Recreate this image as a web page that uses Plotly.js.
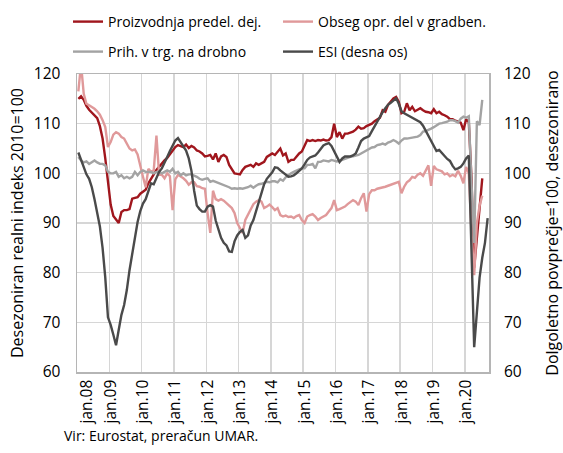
<!DOCTYPE html>
<html><head><meta charset="utf-8">
<script src="https://cdn.plot.ly/plotly-3.0.1.min.js"></script>
<style>html,body{margin:0;padding:0;background:#fff}#chart{width:563px;height:453px}</style>
</head><body><div id="chart"></div>
<script>
// Monthly series, Jan 2008 onward
const tickLabels = ['jan.08','jan.09','jan.10','jan.11','jan.12','jan.13','jan.14','jan.15','jan.16','jan.17','jan.18','jan.19','jan.20'];

const proizvodnja = [
 115,115.5,114.8,113.6,112.8,112.2,111.7,111.1,109.5,107,103,97.7,
 93.7,91.4,90.6,90,92.2,92.6,92.6,92.8,94.9,95,95.2,95.9,
 96.4,96.7,98,98.8,99.8,100.7,101.4,102,102.6,103.1,103.8,104.4,
 105.3,105.7,105.5,105.3,105.8,105.1,105.5,105.2,104.6,104.4,104,103.4,
 103.5,103.7,102.8,104,102.3,103.4,103.7,103.3,101.7,100.7,100,99.9,
 99.8,100.7,101.3,101.5,101.7,101.3,102,101.7,102,102.3,103.3,103.6,
 104,103.7,104.3,105,103.6,104,102.3,102.7,102.7,103.4,104,104.4,
 105.5,106.7,106.5,106.7,106.5,106.7,106.6,106.8,106.6,106.7,107.3,110,
 107.3,108.3,107,108,108,108.2,108.4,108.8,109.4,109,109.1,109.5,
 109.7,110,110.5,110.8,111.2,112.7,112.4,113.8,114.5,115.1,115.4,114.4,
 112.1,112.4,114.1,112.7,113.4,112.5,112.8,113.1,112.7,112.4,112.3,112.1,
 112.9,112.1,112.4,111.9,111.7,111.4,110.9,110.9,110.6,110.4,110.2,108.7,
 110.9,110.3,99,81,87,93.5,99];

const gradbenistvo = [
 116.5,122,116,114,113.7,113.4,113,112.5,111.8,110.7,109.3,105.3,
 106.3,107.8,108.3,108,107.3,107,106.1,105,104.6,104.8,103.8,101.8,
 99.3,97.2,100.9,100.3,100.6,107.6,99.7,99.7,99,100,99.4,92.6,
 98.8,99.7,99.4,99,98.5,97.7,98.2,98.2,97.4,97.3,97,96.9,
 92,88,96.5,94.8,94.5,94.8,94.5,94,93.5,93,92,90,
 89,88,90.6,91.6,92.6,93.8,94.3,94.6,94.3,93,93.3,93.7,
 93.2,92.6,93,91.6,91.3,91.5,91.2,91.3,91,91.4,91.6,90.6,
 90,91.3,91.6,91.8,91.3,90.6,91,91.3,91.6,92.3,93,94.6,
 92.6,92.8,93,93.3,93.8,94.3,94.6,94.3,93.6,95,96,92.3,
 95.8,96.6,96.6,96.9,97,97.1,97.3,97.5,97.7,97.8,98,98.3,
 96,97.3,98.2,98.6,99.3,99.1,99.7,100,99.5,100.5,101.6,97.5,
 101.5,100.8,100.6,100.4,99.8,100,99.4,99.7,99.4,100.5,99.5,98,
 101.3,100,88,79.5,90,93.5,95.5];

const trgovina = [
 103.3,102.6,102.2,102.4,101.9,102.2,102.6,102.2,101.9,101.9,101.6,100.3,
 100,100,100.3,99.3,99.6,99,99.3,99,99.3,100.3,99.6,100.3,
 100.6,100.3,100.3,100.3,100,100.3,100.3,100,100.3,100.6,100.3,100.9,
 100,100.3,99.6,100,99.6,99.8,99.8,99.6,99.3,98.9,98.7,98.9,
 99,98.3,98.5,98.3,98.1,97.9,97.6,97.4,97.2,96.9,97,96.9,
 97,96.9,97,97.2,97.5,97.1,97.5,97.8,97.9,98.1,98.3,98.2,
 98.4,98.4,98.2,98.8,98.5,99.2,99.7,100,100.3,100.6,100.8,101,
 101,101.7,101.7,101.9,101,102.3,102.3,102.6,102.5,102.4,102.7,102.5,
 102.4,102.5,102.7,103,103.1,103.3,103.4,103.5,103.7,104,104.3,104.7,
 105,105.2,105.3,105.7,105.8,106,105.8,106.2,106.4,106.7,106.4,106,
 106.6,107,107,107.1,107.2,107.3,107.4,107.7,108.4,108.5,108.7,109,
 109.3,109.6,110,110.1,110.2,110.4,110.7,110.7,110.5,110.2,111,111.4,
 111.2,111.5,98,86,110.5,109.7,114.8];

const esi = [
 104.2,102.8,101.5,99.8,98.9,97.2,94.8,92,89.3,85,79,71,
 69.5,67.5,65.4,68.5,71.5,73.5,76.5,80.5,84,87.5,90.2,92.4,
 93.9,94.8,96.3,98,97.8,99,100.3,101,102,103.3,104.5,105.7,
 106.6,107.1,106.3,105.6,104.6,103,100.5,96.5,93.5,92.8,92.3,92.3,
 93.3,93.6,93.3,90.5,88.6,87,86,85.5,84.3,84.2,86.3,87.5,
 88.2,88.6,87,87.5,89.5,90.6,92.4,94.3,96.2,97.8,98.9,99.5,
 100.2,101.2,101.1,100.6,100.2,99.7,99.3,99.4,99.6,100,100.5,101,
 101.8,102.7,103.2,103.4,103.6,104.2,104.9,105.6,105.9,106.1,105.5,104.5,
 103.3,102.3,103,103.4,103.4,103.4,103.6,104,105.2,106.5,107,107.2,
 107.5,108.5,109.5,110.3,111.3,112.3,113.1,113.8,114.2,114.6,115.1,114,
 112.5,112.1,111.8,111.5,111.2,110.9,110.7,110.3,109.6,108.6,107.5,106.3,
 105.3,104.5,104.7,104,103.5,102.9,102.5,101.5,100.8,101,101.3,102,
 103,103.6,85,65,72,79,83,86,91];

const idx = arr => arr.map((_, i) => i);
const font = 'Open Sans, Noto Sans, sans-serif';
const lw = 2.4;

const traces = [
  {x: idx(proizvodnja), y: proizvodnja, name: 'Proizvodnja predel. dej.', type: 'scatter', mode: 'lines',
   line: {color: '#A0161D', width: lw}, legend: 'legend'},
  {x: idx(gradbenistvo), y: gradbenistvo, name: 'Obseg opr. del v gradben.', type: 'scatter', mode: 'lines',
   line: {color: '#E0999A', width: lw}, legend: 'legend2'},
  {x: idx(trgovina), y: trgovina, name: 'Prih. v trg. na drobno', type: 'scatter', mode: 'lines',
   line: {color: '#A3A3A3', width: lw}, legend: 'legend3'},
  {x: idx(esi), y: esi, name: 'ESI (desna os)', type: 'scatter', mode: 'lines', yaxis: 'y2',
   line: {color: '#4A4A4A', width: lw}, legend: 'legend4'}
];

const nMonths = esi.length;
const legendCommon = {orientation: 'h', xref: 'container', yref: 'container', xanchor: 'left', yanchor: 'middle',
  font: {family: font, size: 14, color: '#000'}, bgcolor: 'rgba(0,0,0,0)', borderwidth: 0};
const col1 = 68/563, col2 = 278/563, row1 = 1 - 22/453, row2 = 1 - 52/453;

const layout = {
  width: 563, height: 453,
  margin: {l: 77, r: 74, t: 74, b: 81},
  paper_bgcolor: '#fff', plot_bgcolor: '#fff',
  font: {family: font, color: '#000'},
  showlegend: true,
  legend: Object.assign({}, legendCommon, {x: col1, y: row1}),
  legend2: Object.assign({}, legendCommon, {x: col2, y: row1}),
  legend3: Object.assign({}, legendCommon, {x: col1, y: row2}),
  legend4: Object.assign({}, legendCommon, {x: col2, y: row2}),
  xaxis: {
    range: [-0.5, nMonths - 0.5], showgrid: false, zeroline: false,
    tickmode: 'array',
    tickvals: tickLabels.map((t, k) => k === 0 ? 3.2 : k * 12),
    ticktext: tickLabels, tickangle: -90, ticks: '',
    tickfont: {family: font, size: 15.5, color: '#000'},
    showline: true, mirror: true, linecolor: '#b5b5b5', linewidth: 1.5,
    minor: {tickmode: 'linear', tick0: -0.5, dtick: 12, showgrid: true, gridcolor: '#d6d6d6', gridwidth: 1.5, ticks: ''}
  },
  yaxis: {
    range: [60, 120], dtick: 10, tick0: 60, ticks: '', zeroline: false,
    showgrid: true, gridcolor: '#d6d6d6', gridwidth: 1.5,
    showline: true, mirror: true, linecolor: '#b5b5b5', linewidth: 1.5,
    tickfont: {family: font, size: 15.5, color: '#000'}, ticklabelstandoff: 12,
    title: {text: 'Desezoniran realni indeks 2010=100', font: {family: font, size: 16, color: '#000'}, standoff: 6}
  },
  yaxis2: {
    range: [60, 120], dtick: 10, tick0: 60, ticks: '', overlaying: 'y', side: 'right',
    showgrid: false, zeroline: false, showline: false,
    tickfont: {family: font, size: 15.5, color: '#000'}, ticklabelstandoff: 14,
    title: {text: 'Dolgoletno povprečje=100, desezonirano', font: {family: font, size: 16, color: '#000'}, standoff: 17}
  },
  annotations: [{
    text: 'Vir: Eurostat, preračun UMAR.', xref: 'paper', yref: 'paper',
    x: -15/412, y: (372 - 435)/298, xanchor: 'left', yanchor: 'middle', showarrow: false,
    font: {family: font, size: 14, color: '#000'}
  }]
};

Plotly.newPlot('chart', traces, layout, {displayModeBar: false, staticPlot: true});
</script>
</body></html>
